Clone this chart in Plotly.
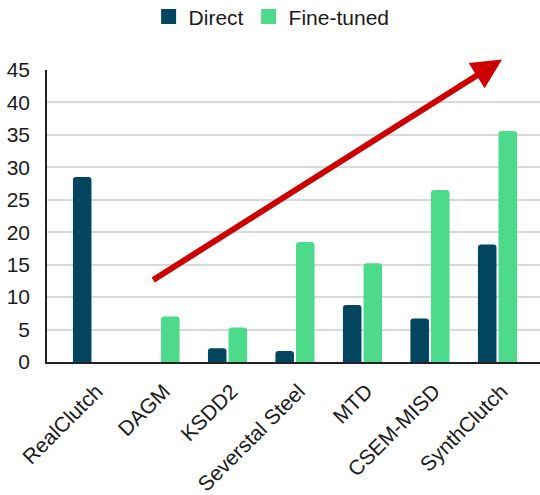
import plotly.graph_objects as go

# Defect-detection scores per dataset
categories = ["RealClutch", "DAGM", "KSDD2", "Severstal Steel", "MTD", "CSEM-MISD", "SynthClutch"]
direct = [28.5, 0, 2.1, 1.7, 8.8, 6.7, 18.1]
fine_tuned = [0, 7.0, 5.3, 18.5, 15.2, 26.5, 35.6]
y_ticks = [0, 5, 10, 15, 20, 25, 30, 35, 40, 45]
series_names = ["Direct", "Fine-tuned"]

DIRECT_COLOR = "#03445F"
FINE_COLOR = "#4DDB8B"
colors = [DIRECT_COLOR, FINE_COLOR]

fig = go.Figure()
for name, values, color in zip(series_names, [direct, fine_tuned], colors):
    fig.add_trace(go.Bar(name=name, x=categories, y=values, marker_color=color,
                         marker_line_width=0, showlegend=False))

# Legend entries with larger square swatches
for name, color in zip(series_names, colors):
    fig.add_trace(go.Scatter(name=name, x=[None], y=[None], mode="markers",
                             marker=dict(symbol="square", size=15, color=color),
                             showlegend=True))

# Trend arrow drawn across the bars (category index / value coordinates)
trend_start = (0.877, 12.5)
trend_end = (6.067, 46.6)
fig.add_annotation(
    x=trend_end[0], y=trend_end[1], ax=trend_start[0], ay=trend_start[1],
    xref="x", yref="y", axref="x", ayref="y",
    text="", showarrow=True, arrowhead=2, arrowsize=1.0, arrowwidth=6,
    arrowcolor="#CC0000",
)

fig.update_layout(
    width=540, height=495,
    margin=dict(l=47, r=0, t=70, b=133),
    paper_bgcolor="white", plot_bgcolor="white",
    barmode="group", bargap=0.39, bargroupgap=0.1, barcornerradius=3,
    font=dict(family="Liberation Sans, Arial, sans-serif", size=21, color="#1a1a1a"),
    legend=dict(orientation="h", xref="container", yref="container",
                x=0.503, xanchor="center", y=0.966, yanchor="middle",
                font=dict(size=21), itemwidth=30, traceorder="normal"),
    xaxis=dict(range=[-0.674, 6.63], tickangle=-45, showgrid=False,
               showline=True, linecolor="#222222", linewidth=1.5,
               ticks="", tickfont=dict(size=21),
               ticklabelstandoff=7, ticklabelshift=4),
    yaxis=dict(range=[0, 45], tickvals=y_ticks, showgrid=True,
               gridcolor="#D9D9D9", gridwidth=1.5,
               showline=True, linecolor="#222222", linewidth=1.5,
               ticks="", ticklabelstandoff=11, tickfont=dict(size=21),
               zeroline=False),
)

fig.write_html("out.html")
